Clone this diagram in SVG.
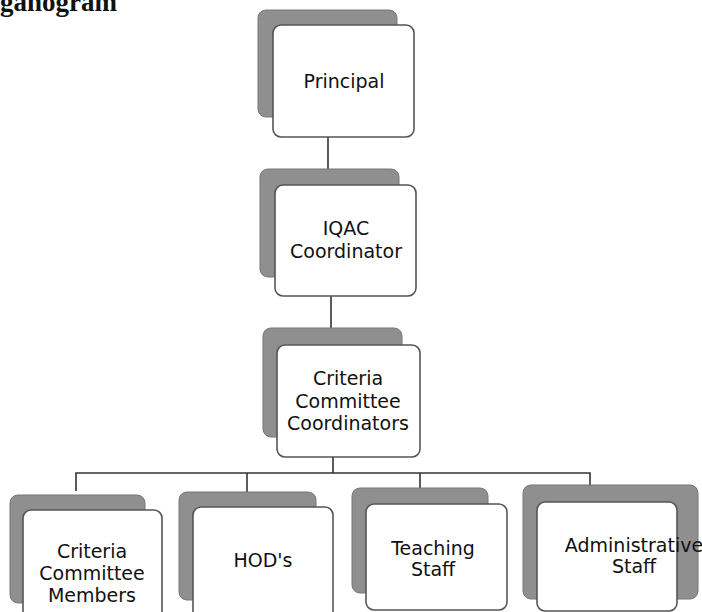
<svg xmlns="http://www.w3.org/2000/svg" width="702" height="612" viewBox="0 0 702 612">
<style>
.sh{fill:#8f8f8f;stroke:#777;stroke-width:1}
.fr{fill:#fff;stroke:#555;stroke-width:1.6}
.t{font-family:"DejaVu Sans",sans-serif;font-size:19px;fill:#111;text-anchor:middle}
.c{stroke:#333;stroke-width:1.6;fill:none}
</style>
<rect width="702" height="612" fill="#fff"/>
<text x="0" y="11" font-family="Liberation Serif,serif" font-weight="bold" font-size="27" fill="#111">ganogram</text>
<g id="connectors">
<line class="c" x1="328" y1="137" x2="328" y2="170"/>
<line class="c" x1="331" y1="296" x2="331" y2="328"/>
<line class="c" x1="333" y1="457" x2="333" y2="473"/>
<polyline class="c" points="76,491 76,473 590,473 590,486"/>
<line class="c" x1="247" y1="473" x2="247" y2="492"/>
<line class="c" x1="420" y1="473" x2="420" y2="488"/>
</g>
<g id="principal">
<rect class="sh" x="258" y="10" width="139" height="107" rx="8"/>
<rect class="fr" x="273" y="25" width="141" height="112" rx="8"/>
<text class="t" x="344" y="88">Principal</text>
</g>
<g id="iqac">
<rect class="sh" x="260" y="169" width="139" height="108" rx="8"/>
<rect class="fr" x="275" y="185" width="141" height="111" rx="8"/>
<text class="t" x="346" y="235">IQAC</text>
<text class="t" x="346" y="258">Coordinator</text>
</g>
<g id="ccc">
<rect class="sh" x="263" y="328" width="139" height="109" rx="8"/>
<rect class="fr" x="277" y="345" width="143" height="112" rx="8"/>
<text class="t" x="348" y="385">Criteria</text>
<text class="t" x="348" y="408">Committee</text>
<text class="t" x="348" y="430">Coordinators</text>
</g>
<g id="members">
<rect class="sh" x="10" y="495" width="135" height="108" rx="8"/>
<rect class="fr" x="23" y="510" width="139" height="112" rx="8"/>
<text class="t" x="92" y="558">Criteria</text>
<text class="t" x="92" y="580">Committee</text>
<text class="t" x="92" y="602">Members</text>
</g>
<g id="hods">
<rect class="sh" x="179" y="492" width="137" height="108" rx="8"/>
<rect class="fr" x="193" y="507" width="140" height="115" rx="8"/>
<text class="t" x="263" y="567">HOD's</text>
</g>
<g id="teaching">
<rect class="sh" x="352" y="488" width="136" height="105" rx="8"/>
<rect class="fr" x="366" y="504" width="141" height="106" rx="8"/>
<text class="t" x="433" y="555">Teaching</text>
<text class="t" x="433" y="576">Staff</text>
</g>
<g id="admin">
<rect class="sh" x="523" y="485" width="175" height="114" rx="8"/>
<rect class="fr" x="537" y="502" width="140" height="109" rx="8"/>
<text class="t" x="634" y="552">Administrative</text>
<text class="t" x="634" y="573">Staff</text>
</g>
</svg>
